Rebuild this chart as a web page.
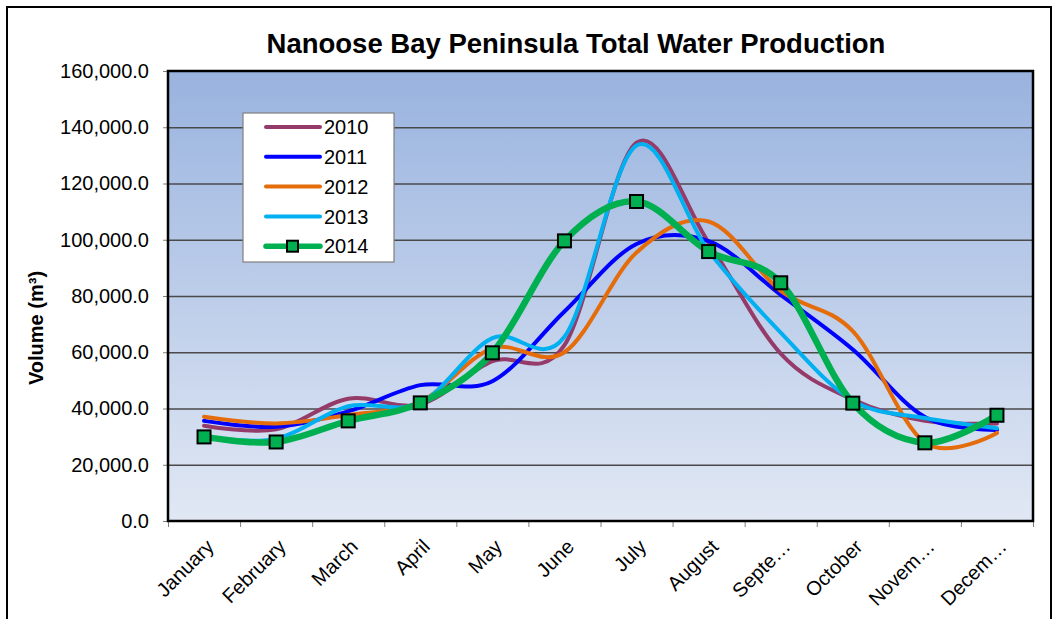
<!DOCTYPE html>
<html>
<head>
<meta charset="utf-8">
<script src="https://cdn.jsdelivr.net/npm/d3@7"></script>
<style>
  body { margin: 0; background: #fff; }
  text { font-family: 'Liberation Sans', Arial, sans-serif; }
</style>
</head>
<body>
<div id="chart"></div>
<script>
const months = ['January', 'February', 'March', 'April', 'May', 'June', 'July', 'August', 'Septe…', 'October', 'Novem…', 'Decem…'];
const years = ['2010', '2011', '2012', '2013', '2014'];
const v2010 = [33900, 32600, 43500, 41500, 56800, 62500, 134500, 99000, 59500, 43200, 35600, 34700];
const v2011 = [35600, 33500, 39000, 48300, 49700, 74500, 98500, 99500, 80400, 61000, 37000, 32400];
const v2012 = [37100, 34700, 37700, 42300, 61400, 60000, 95500, 106500, 81800, 67500, 27900, 31300];
const v2013 = [30000, 29200, 40800, 42000, 65000, 65500, 133500, 96000, 67000, 42800, 36600, 33000];
const v2014 = [29900, 28100, 35600, 42000, 59800, 99600, 113600, 95800, 84700, 41900, 27800, 37600];
const yTicks = [0, 20000, 40000, 60000, 80000, 100000, 120000, 140000, 160000];
const colors = ['#953B6A', '#0000FF', '#E46C0A', '#00B0F0', '#00B050'];

const series = [v2010, v2011, v2012, v2013, v2014];

const W = 1058;
const H = 619;
const plot = { left: 168, right: 1033, top: 71, bottom: 521 };

const svg = d3
  .select('#chart')
  .append('svg')
  .attr('width', W)
  .attr('height', H);

// chart frame
svg
  .append('rect')
  .attr('x', 7)
  .attr('y', 7)
  .attr('width', 1044)
  .attr('height', 640)
  .style('fill', '#fff')
  .style('stroke', '#000')
  .style('stroke-width', 2);

const grad = svg
  .append('defs')
  .append('linearGradient')
  .attr('id', 'bg')
  .attr('x1', 0)
  .attr('y1', 0)
  .attr('x2', 0)
  .attr('y2', 1);
grad.append('stop').attr('offset', '0%').attr('stop-color', '#99B3DF');
grad.append('stop').attr('offset', '100%').attr('stop-color', '#E1E8F4');

const x = d3
  .scaleBand()
  .domain(months)
  .range([plot.left, plot.right])
  .padding(0);
const xEdge = d3
  .scaleLinear()
  .domain([0, months.length])
  .range([plot.left, plot.right]);
const y = d3
  .scaleLinear()
  .domain([0, 160000])
  .range([plot.bottom, plot.top]);

svg
  .append('rect')
  .attr('x', plot.left)
  .attr('y', plot.top)
  .attr('width', plot.right - plot.left)
  .attr('height', plot.bottom - plot.top)
  .style('fill', 'url(#bg)');

// gridlines
svg
  .append('g')
  .attr('transform', `translate(${plot.left},0)`)
  .call(
    d3
      .axisLeft(y)
      .tickValues(yTicks.slice(1, -1))
      .tickSize(-(plot.right - plot.left))
      .tickFormat('')
  )
  .call((g) => g.select('.domain').remove())
  .call((g) => g.selectAll('line').style('stroke', '#4a4a4a').style('stroke-width', 1.3));

// y axis
const yAxis = svg
  .append('g')
  .attr('transform', `translate(${plot.left},0)`)
  .call(
    d3
      .axisLeft(y)
      .tickValues(yTicks)
      .tickSize(5)
      .tickPadding(14)
      .tickFormat(d3.format(',.1f'))
  );
yAxis.select('.domain').remove();
yAxis.selectAll('line').style('stroke', '#7f7f7f');
yAxis
  .selectAll('text')
  .style('font-size', '20px')
  .style('fill', '#000')
  .style('font-family', "'Liberation Sans', Arial, sans-serif");

// x axis ticks at band edges
const xAxis = svg
  .append('g')
  .attr('transform', `translate(0,${plot.bottom})`)
  .call(
    d3
      .axisBottom(xEdge)
      .tickValues(d3.range(0, months.length + 1))
      .tickSize(6)
      .tickFormat('')
  );
xAxis.select('.domain').remove();
xAxis.selectAll('line').style('stroke', '#7f7f7f');

svg
  .append('g')
  .selectAll('text')
  .data(months)
  .enter()
  .append('text')
  .attr('transform', (d) => `translate(${x(d) + x.bandwidth() / 2 + 6},${plot.bottom + 22}) rotate(-45)`)
  .attr('text-anchor', 'end')
  .attr('dy', '0.35em')
  .style('font-size', '20px')
  .text((d) => d);

// plot border
svg
  .append('rect')
  .attr('x', plot.left)
  .attr('y', plot.top)
  .attr('width', plot.right - plot.left)
  .attr('height', plot.bottom - plot.top)
  .style('fill', 'none')
  .style('stroke', '#000')
  .style('stroke-width', 2.5);

// lines
const line = d3
  .line()
  .x((d, i) => x(months[i]) + x.bandwidth() / 2)
  .y((d) => y(d))
  .curve(d3.curveCatmullRom.alpha(0));

svg
  .append('g')
  .selectAll('path')
  .data(series)
  .enter()
  .append('path')
  .attr('d', line)
  .style('fill', 'none')
  .style('stroke', (d, i) => colors[i])
  .style('stroke-width', (d, i) => (i === 4 ? 6.5 : 4))
  .style('stroke-linecap', 'round')
  .style('stroke-linejoin', 'round');

// 2014 markers
svg
  .append('g')
  .selectAll('rect')
  .data(v2014)
  .enter()
  .append('rect')
  .attr('x', (d, i) => x(months[i]) + x.bandwidth() / 2 - 6.5)
  .attr('y', (d) => y(d) - 6.5)
  .attr('width', 13)
  .attr('height', 13)
  .style('fill', '#00B050')
  .style('stroke', '#000')
  .style('stroke-width', 2);

// title
svg
  .append('text')
  .attr('x', 576)
  .attr('y', 53)
  .attr('text-anchor', 'middle')
  .style('font-size', '27.5px')
  .style('font-weight', 'bold')
  .text('Nanoose Bay Peninsula Total Water Production');

svg
  .append('text')
  .attr('transform', 'translate(43,328) rotate(-90)')
  .attr('text-anchor', 'middle')
  .style('font-size', '20px')
  .style('font-weight', 'bold')
  .text('Volume (m³)');

// legend
const legend = svg.append('g').attr('transform', 'translate(243,113)');
legend
  .append('rect')
  .attr('width', 151)
  .attr('height', 149)
  .style('fill', '#fff')
  .style('stroke', '#7f7f7f')
  .style('stroke-width', 1.2);

const item = legend
  .selectAll('.item')
  .data(years)
  .enter()
  .append('g')
  .attr('class', 'item')
  .attr('transform', (d, i) => `translate(0,${14 + i * 29.8})`);

item
  .append('line')
  .attr('x1', 23)
  .attr('x2', 77)
  .style('stroke', (d, i) => colors[i])
  .style('stroke-width', (d, i) => (i === 4 ? 5.5 : 4))
  .style('stroke-linecap', 'round');

item
  .filter((d, i) => i === 4)
  .append('rect')
  .attr('x', 44)
  .attr('y', -5.5)
  .attr('width', 11)
  .attr('height', 11)
  .style('fill', '#00B050')
  .style('stroke', '#000')
  .style('stroke-width', 2);

item
  .append('text')
  .attr('x', 81)
  .attr('dy', '0.36em')
  .style('font-size', '20px')
  .text((d) => d);
</script>
</body>
</html>
